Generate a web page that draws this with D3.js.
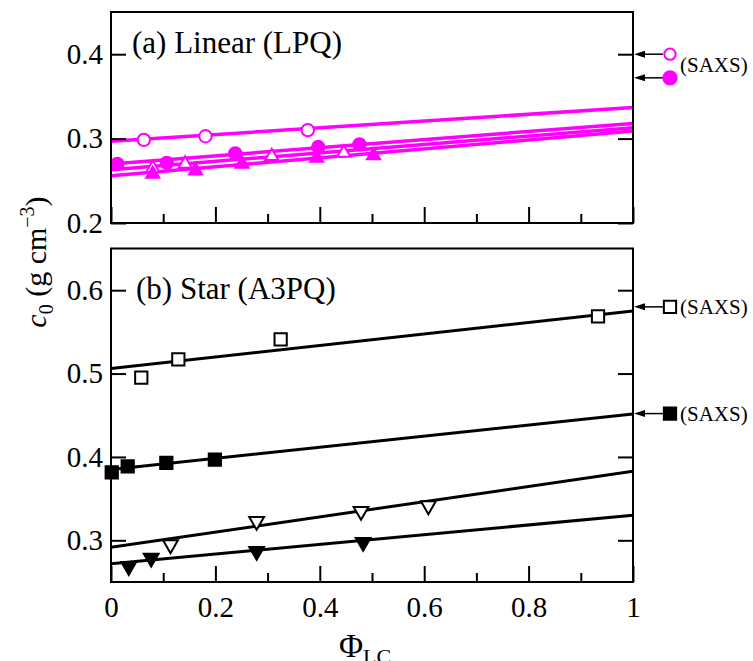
<!DOCTYPE html>
<html>
<head>
<meta charset="utf-8">
<script src="https://cdn.jsdelivr.net/npm/d3@7"></script>
<style>
  body { margin: 0; background: #fff; }
  text { font-family: "Liberation Serif", "Times New Roman", Times, "DejaVu Serif", serif; }
</style>
</head>
<body>
<div id="chart"></div>
<script>
// ---- data ----
// (a) Linear (LPQ)
var linOpenCircPhi = [0.063, 0.181, 0.377];
var linOpenCircC   = [0.2985, 0.3028, 0.3100];
var linFillCircPhi = [0.012, 0.107, 0.238, 0.397, 0.476];
var linFillCircC   = [0.2700, 0.2712, 0.2825, 0.2900, 0.2932];
var linOpenTriPhi  = [0.080, 0.142, 0.308, 0.446];
var linOpenTriC    = [0.2650, 0.2700, 0.2790, 0.2830];
var linFillTriPhi  = [0.080, 0.162, 0.251, 0.394, 0.503];
var linFillTriC    = [0.2580, 0.2620, 0.2700, 0.2770, 0.2800];
// straight fits: value at phi = 0 and phi = 1
var linFits = [[0.2968, 0.3368], [0.2700, 0.3180], [0.2630, 0.3130], [0.2560, 0.3090]];
var linSaxs = [0.400, 0.372];

// (b) Star (A3PQ)
var starOpenSqPhi  = [0.058, 0.129, 0.325, 0.933];
var starOpenSqC    = [0.4950, 0.5170, 0.5410, 0.5685];
var starFillSqPhi  = [0.0014, 0.032, 0.106, 0.199];
var starFillSqC    = [0.3816, 0.3888, 0.3928, 0.3968];
var starOpenTriPhi = [0.114, 0.279, 0.479, 0.608];
var starOpenTriC   = [0.2948, 0.3228, 0.3348, 0.3416];
var starFillTriPhi = [0.034, 0.077, 0.279, 0.483];
var starFillTriC   = [0.2688, 0.2788, 0.2868, 0.2976];
var starFits = [[0.5060, 0.5750], [0.3850, 0.4515], [0.2916, 0.3828], [0.2720, 0.3300]];
var starSaxs = [0.580, 0.452];

var xTicks = [0, 0.2, 0.4, 0.6, 0.8, 1];
var xMinor = [0.1, 0.3, 0.5, 0.7, 0.9];
var topTicks = [0.2, 0.3, 0.4];
var botTicks = [0.3, 0.4, 0.5, 0.6];

var MAG = "#ff00ff";
var SERIF = "Liberation Serif, Times New Roman, serif";

var svg = d3.select("#chart").append("svg")
  .attr("width", 753).attr("height", 661);

var x = d3.scaleLinear().domain([0, 1]).range([111, 633]);
var yTop = d3.scaleLinear().domain([0.2, 0.45]).range([223, 12]);
var yBot = d3.scaleLinear().domain([0.25, 0.65]).range([582, 248.5]);

function zip(a, b) { return a.map(function(v, i) { return [v, b[i]]; }); }

function drawAxes(y, ticks, showX) {
  var yr = y.range();
  // ticks all point inward
  svg.append("g").attr("transform", "translate(0," + yr[0] + ")")
    .call(d3.axisBottom(x).tickValues(xTicks).tickSize(-16).tickPadding(14)
      .tickFormat(showX ? d3.format("") : ""));
  svg.append("g").attr("transform", "translate(0," + yr[0] + ")")
    .call(d3.axisBottom(x).tickValues(xMinor).tickSize(-9).tickFormat(""));
  svg.append("g").attr("transform", "translate(111,0)")
    .call(d3.axisLeft(y).tickValues(ticks).tickSize(-15).tickPadding(8).tickFormat(d3.format(".1f")));
  svg.append("g").attr("transform", "translate(633,0)")
    .call(d3.axisRight(y).tickValues(ticks).tickSize(-15).tickFormat(""));
  svg.selectAll(".domain").remove();
  svg.selectAll(".tick line").attr("stroke", "#000").attr("stroke-width", 2);
  svg.selectAll(".tick text").attr("font-family", SERIF).style("font-size", "29px").attr("fill", "#000");
  svg.append("rect")
    .attr("x", 111).attr("y", yr[1]).attr("width", 522).attr("height", yr[0] - yr[1])
    .attr("fill", "none").attr("stroke", "#000").attr("stroke-width", 2);
}

function clipFor(id, y) {
  var yr = y.range();
  svg.append("clipPath").attr("id", id).append("rect")
    .attr("x", 111).attr("y", yr[1]).attr("width", 522).attr("height", yr[0] - yr[1]);
}

function drawFits(fits, y, color, w, clipId) {
  var line = d3.line().x(function(d) { return x(d[0]); }).y(function(d) { return y(d[1]); });
  svg.append("g").attr("clip-path", "url(#" + clipId + ")")
    .selectAll("path").data(fits).enter().append("path")
    .attr("d", function(f) { return line([[0, f[0]], [1, f[1]]]); })
    .attr("fill", "none").attr("stroke", color).attr("stroke-width", w);
}

function marks(phi, c, y, name, filled, color, size) {
  var type = name === "down" || name === "up" ? d3.symbolTriangle : (name === "square" ? d3.symbolSquare : d3.symbolCircle);
  svg.append("g").selectAll("path").data(zip(phi, c)).enter().append("path")
    .attr("d", d3.symbol().type(type).size(size))
    .attr("transform", function(d) {
      return "translate(" + x(d[0]) + "," + y(d[1]) + ")" + (name === "down" ? " rotate(180)" : "");
    })
    .attr("fill", filled ? color : "#fff")
    .attr("stroke", color).attr("stroke-width", 2);
}

function saxs(vals, y, names, filled, color, size) {
  var g = svg.append("g");
  vals.forEach(function(v, i) {
    var yy = y(v);
    g.append("line").attr("x1", 643).attr("x2", 663).attr("y1", yy).attr("y2", yy)
      .attr("stroke", "#000").attr("stroke-width", 1.5);
    g.append("path").attr("d", "M634," + yy + "L645," + (yy - 3.5) + "L645," + (yy + 3.5) + "Z")
      .attr("fill", "#000");
    var type = names[i] === "square" ? d3.symbolSquare : d3.symbolCircle;
    g.append("path").attr("d", d3.symbol().type(type).size(size[i]))
      .attr("transform", "translate(" + 670 + "," + yy + ")")
      .attr("fill", filled[i] ? color : "#fff")
      .attr("stroke", color).attr("stroke-width", 2);
  });
}

// ---- panel (a) ----
clipFor("clipTop", yTop);
drawFits(linFits, yTop, MAG, 3.5, "clipTop");
marks(linOpenCircPhi, linOpenCircC, yTop, "circle", false, MAG, 120);
marks(linFillCircPhi, linFillCircC, yTop, "circle", true, MAG, 120);
marks(linOpenTriPhi, linOpenTriC, yTop, "up", false, MAG, 75);
marks(linFillTriPhi, linFillTriC, yTop, "up", true, MAG, 75);
drawAxes(yTop, topTicks, false);
saxs(linSaxs, yTop, ["circle", "circle"], [false, true], MAG, [100, 140]);
svg.append("text").attr("x", 680).attr("y", 72).style("font-size", "21px").text("(SAXS)");
svg.append("text").attr("x", 132).attr("y", 53).style("font-size", "31px").text("(a) Linear (LPQ)");

// ---- panel (b) ----
clipFor("clipBot", yBot);
drawFits(starFits, yBot, "#000", 3, "clipBot");
marks(starOpenSqPhi, starOpenSqC, yBot, "square", false, "#000", 150);
marks(starFillSqPhi, starFillSqC, yBot, "square", true, "#000", 150);
marks(starOpenTriPhi, starOpenTriC, yBot, "down", false, "#000", 95);
marks(starFillTriPhi, starFillTriC, yBot, "down", true, "#000", 95);
drawAxes(yBot, botTicks, true);
saxs(starSaxs, yBot, ["square", "square"], [false, true], "#000", [150, 150]);
starSaxs.forEach(function(v) {
  svg.append("text").attr("x", 680).attr("y", yBot(v) + 7).style("font-size", "21px").text("(SAXS)");
});
svg.append("text").attr("x", 136).attr("y", 299).style("font-size", "31px").text("(b) Star (A3PQ)");

// ---- axis titles ----
var yl = svg.append("text")
  .attr("transform", "translate(46,262) rotate(-90)")
  .attr("text-anchor", "middle").style("font-size", "30px");
yl.append("tspan").style("font-style", "italic").text("c");
yl.append("tspan").attr("dy", 7).style("font-size", "20px").text("0");
yl.append("tspan").attr("dy", -7).text(" (g cm");
yl.append("tspan").attr("dy", -12).style("font-size", "20px").text("\u22123");
yl.append("tspan").attr("dy", 12).text(")");

// the reference crops this title at the lower edge
var xl = svg.append("text").attr("x", 365).attr("y", 657)
  .attr("text-anchor", "middle").style("font-size", "33px");
xl.append("tspan").text("\u03A6");
xl.append("tspan").attr("dy", 7).style("font-size", "22px").text("LC");
</script>
</body>
</html>
